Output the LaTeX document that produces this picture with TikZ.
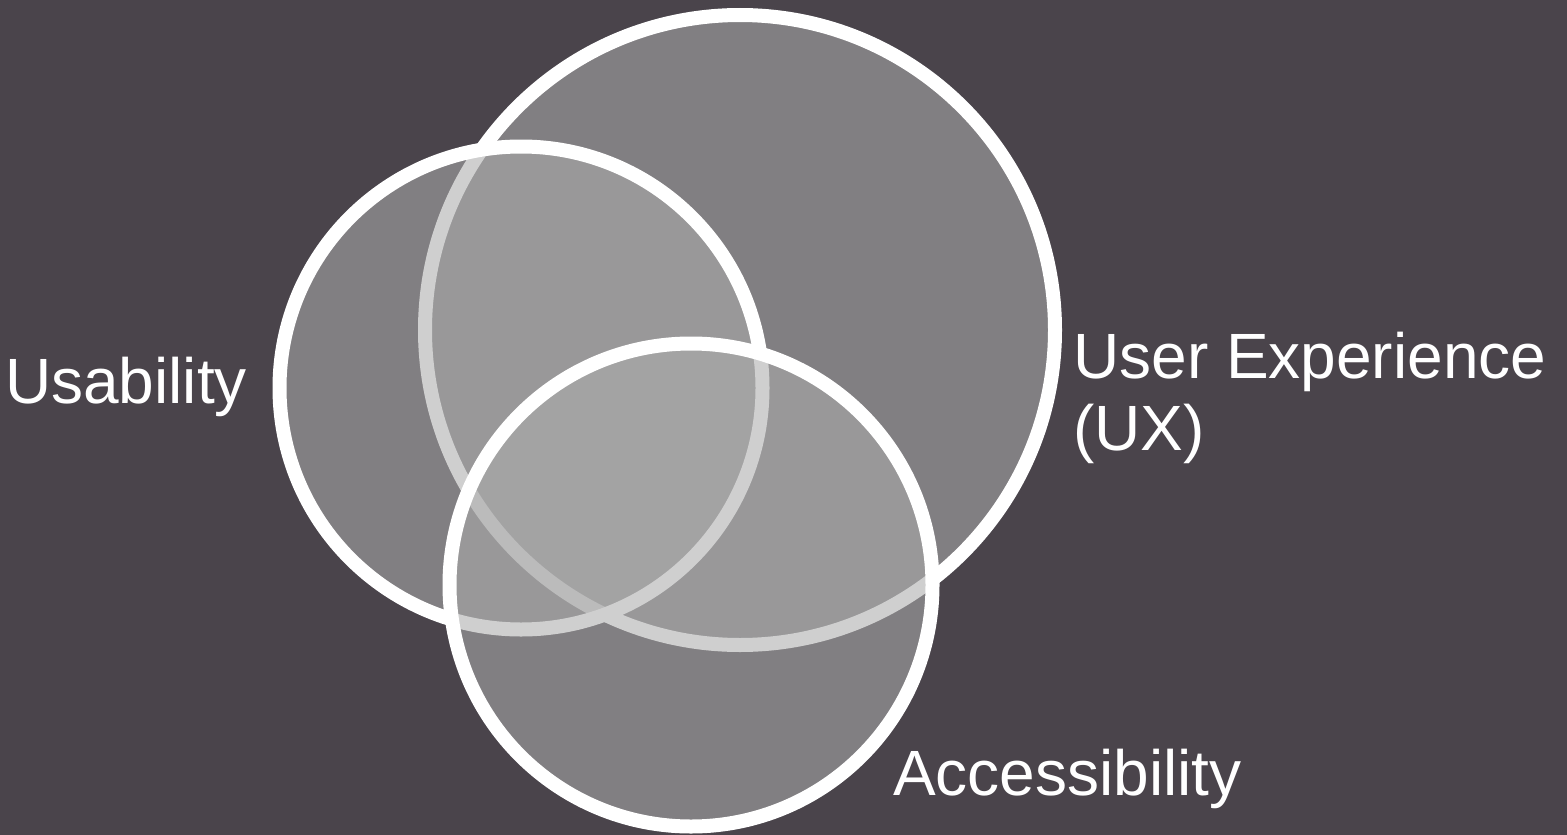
\documentclass[tikz,border=0pt]{standalone}
\usepackage{fontspec}
\setmainfont{Liberation Sans}
\definecolor{bgcol}{RGB}{74,68,75}
\definecolor{fillcol}{RGB}{172,172,172}
\begin{document}
\begin{tikzpicture}[x=1pt,y=-1pt,
  venn/.style={circle, draw=white, line width=14pt, fill=fillcol, fill opacity=0.57, draw opacity=1, inner sep=0pt},
  lbl/.style={text=white, inner sep=0pt, anchor=base west, font=\fontsize{64}{73}\selectfont}]
\fill[bgcol] (0,0) rectangle (1567,835);
\useasboundingbox (0,0) rectangle (1567,835);
\node[venn, minimum size=630pt] (ux) at (740,330) {};
\node[venn, minimum size=483pt] (us) at (521,388) {};
\node[venn, minimum size=483pt] (ac) at (691,585) {};
\node[lbl] (tus) at (5,403) {Usability};
\node[lbl] (tux) at (1073,378) {User Experience};
\node[lbl] (tux2) at (1073,450) {(UX)};
\node[lbl] (tac) at (893,795) {Accessibility};
\end{tikzpicture}
\end{document}
